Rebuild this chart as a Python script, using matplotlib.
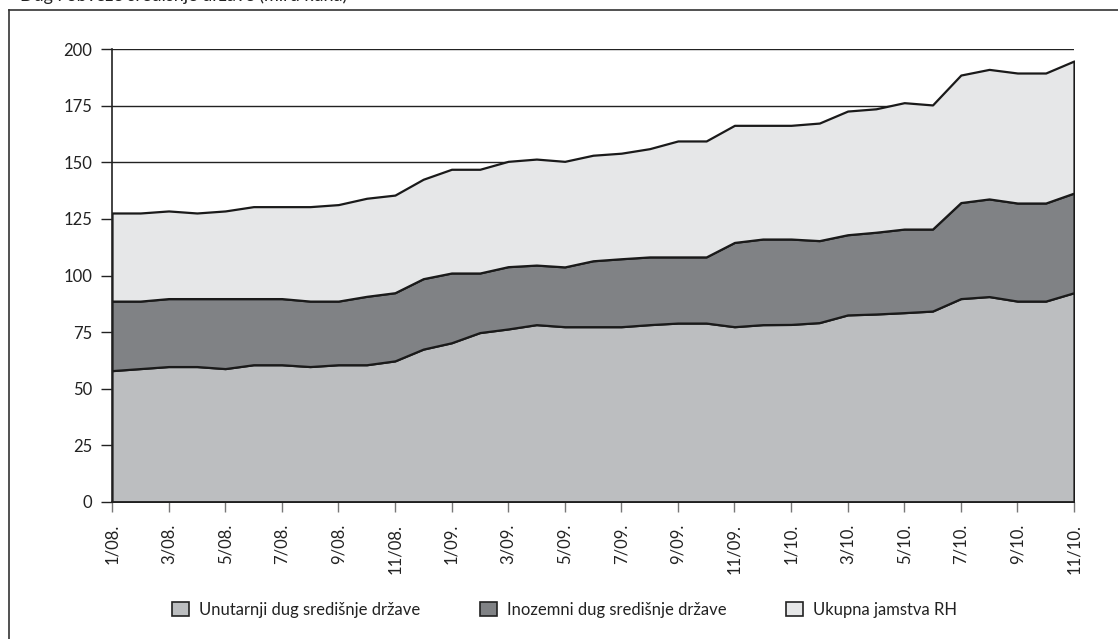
import matplotlib.pyplot as plt
from matplotlib.lines import Line2D

plt.rcParams['font.family'] = ['Lato', 'DejaVu Sans']

# mjeseci 1/08. - 11/10.
months = [f"{m}/{y}." for y in ["08", "09", "10"] for m in range(1, 13)][:35]

# razine (mlrd kuna) procitane s grafa
unutarnji = [58.0, 58.9, 59.8, 59.8, 58.9, 60.6, 60.6, 59.8, 60.6, 60.6, 62.3, 67.5,
             70.3, 74.8, 76.4, 78.3, 77.4, 77.4, 77.4, 78.3, 79.0, 79.0, 77.4, 78.3,
             78.4, 79.2, 82.6, 83.0, 83.6, 84.3, 89.8, 90.7, 88.7, 88.7, 92.4]
unutarnji_plus_inozemni = [88.7, 88.7, 89.8, 89.8, 89.8, 89.8, 89.8, 88.7, 88.7, 90.8, 92.4, 98.6,
                           101.1, 101.1, 103.9, 104.6, 103.8, 106.5, 107.4, 108.2, 108.2, 108.2, 114.6, 116.1,
                           116.1, 115.4, 118.0, 119.1, 120.5, 120.5, 132.2, 133.8, 132.0, 132.0, 136.4]
ukupno = [127.6, 127.6, 128.5, 127.6, 128.5, 130.4, 130.4, 130.4, 131.3, 134.1, 135.5, 142.5,
          146.9, 146.9, 150.4, 151.4, 150.4, 153.1, 154.0, 156.0, 159.4, 159.4, 166.3, 166.3,
          166.3, 167.3, 172.6, 173.6, 176.3, 175.3, 188.5, 191.0, 189.4, 189.4, 194.7]

inozemni = [b - a for a, b in zip(unutarnji, unutarnji_plus_inozemni)]
jamstva = [c - b for b, c in zip(unutarnji_plus_inozemni, ukupno)]

labels = ["Unutarnji dug središnje države", "Inozemni dug središnje države", "Ukupna jamstva RH"]
colors = ["#bcbec0", "#808285", "#e6e7e8"]

fig = plt.figure(figsize=(11.18, 6.39), dpi=100)
ax = fig.add_axes([112 / 1118, 137 / 639, 962 / 1118, 453 / 639])

x = list(range(len(months)))
ax.stackplot(x, unutarnji, inozemni, jamstva, colors=colors, labels=labels,
             edgecolor="#1a1a1a", linewidth=1.6, zorder=3)

ax.set_xlim(0, len(months) - 1)
ax.set_ylim(0, 200)
ax.set_yticks(range(0, 201, 25))
ax.yaxis.grid(True, color="#222222", linewidth=1.0, zorder=0)
ax.set_axisbelow(True)
ax.set_xticks(x[::2])
ax.set_xticklabels(months[::2], rotation=90)

for s in ["top", "right"]:
    ax.spines[s].set_visible(False)
for s in ["left", "bottom"]:
    ax.spines[s].set_color("#222222")
    ax.spines[s].set_linewidth(1.2)
    ax.spines[s].set_zorder(4)

ax.tick_params(axis="y", length=8, width=1, color="#222222", labelsize=12, pad=6, labelcolor="#222222")
ax.tick_params(axis="x", length=7, width=1, color="#777777", labelsize=12, pad=9, labelcolor="#222222")

# legenda
handles = [plt.Rectangle((0, 0), 1, 1, facecolor=c, edgecolor="#222222", linewidth=1.2) for c in colors]
fig.legend(handles, labels, loc="center", bbox_to_anchor=(0.505, 0.046), ncol=3, frameon=False,
           fontsize=12, handlelength=1.0, handleheight=1.0, columnspacing=3.6, handletextpad=0.6,
           labelcolor="#222222")

# okvir i odrezani naslov
fig.add_artist(Line2D([9 / 1118, 1.0], [1 - 10 / 639, 1 - 10 / 639], color="#333333", linewidth=1.2))
fig.add_artist(Line2D([9 / 1118, 9 / 1118], [0, 1 - 10 / 639], color="#333333", linewidth=1.2))
fig.text(20 / 1118, 1 - 1 / 639, "Dug i obveze središnje države (mlrd kuna)", fontsize=13,
         va="baseline", ha="left", color="#222222")

fig.savefig("out.png", dpi=100)
